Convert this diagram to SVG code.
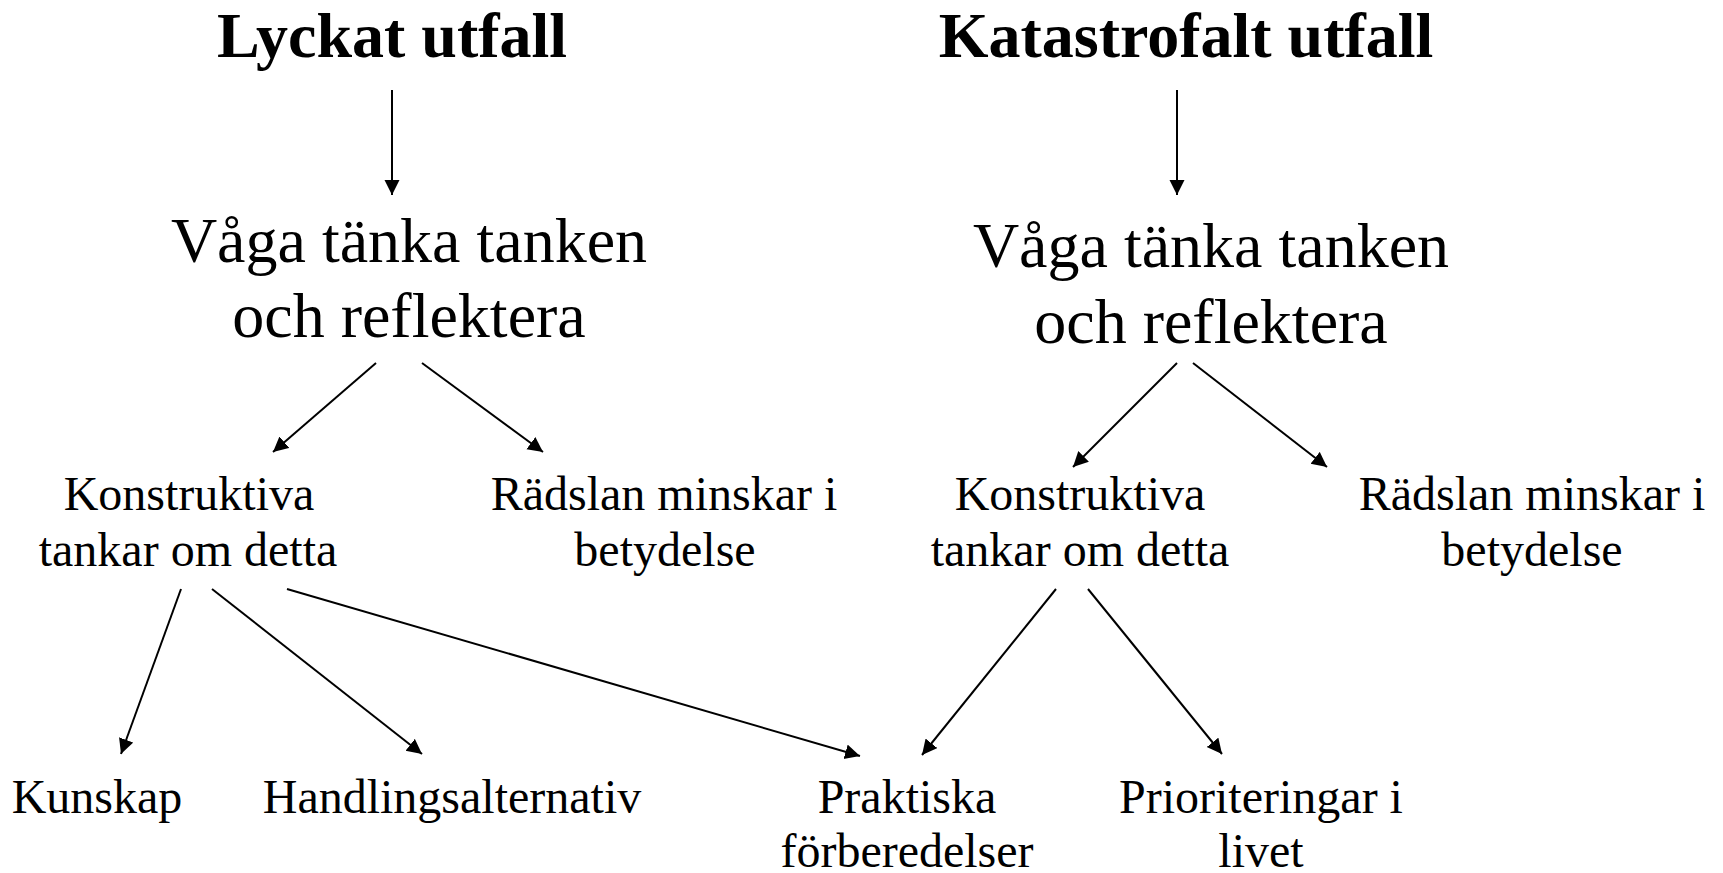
<svg xmlns="http://www.w3.org/2000/svg" width="1723" height="873" viewBox="0 0 1723 873">
<style>
text{font-family:"Liberation Serif","Times New Roman",serif;fill:#000;text-anchor:middle}
.title{font-size:64px;font-weight:bold}
.big{font-size:64px}
.mid{font-size:48px}
.conn line{stroke:#000;stroke-width:2;fill:none;marker-end:url(#arr)}
</style>
<defs>
<marker id="arr" markerUnits="userSpaceOnUse" markerWidth="16" markerHeight="16" refX="15" refY="7.5" orient="auto" viewBox="0 0 16 16">
<path d="M0,0 L15,7.5 L0,15 z" fill="#000"/>
</marker>
</defs>
<rect width="1723" height="873" fill="#fff"/>
<g class="conn" id="connectors">
<line x1="392" y1="90" x2="392" y2="195"/>
<line x1="1177" y1="90" x2="1177" y2="195"/>
<line x1="376" y1="363" x2="273" y2="452"/>
<line x1="422" y1="363" x2="543" y2="452"/>
<line x1="1177" y1="363" x2="1073" y2="467"/>
<line x1="1193" y1="363" x2="1327" y2="467"/>
<line x1="181" y1="589" x2="121" y2="754"/>
<line x1="212" y1="589" x2="422" y2="754"/>
<line x1="287" y1="589" x2="860" y2="756"/>
<line x1="1056" y1="589" x2="922" y2="755"/>
<line x1="1088" y1="589" x2="1222" y2="754"/>
</g>
<g id="lyckat"><text class="title" x="392" y="57">Lyckat utfall</text></g>
<g id="katastrofalt"><text class="title" x="1186" y="57">Katastrofalt utfall</text></g>
<g id="vaga-left"><text class="big" x="409" y="262">Våga tänka tanken</text><text class="big" x="409" y="337">och reflektera</text></g>
<g id="vaga-right"><text class="big" x="1211" y="267">Våga tänka tanken</text><text class="big" x="1211" y="343">och reflektera</text></g>
<g id="konstr-left"><text class="mid" x="189" y="510">Konstruktiva</text><text class="mid" x="188" y="566">tankar om detta</text></g>
<g id="radsla-left"><text class="mid" x="664" y="510">Rädslan minskar i</text><text class="mid" x="665" y="566">betydelse</text></g>
<g id="konstr-right"><text class="mid" x="1080" y="510">Konstruktiva</text><text class="mid" x="1080" y="566">tankar om detta</text></g>
<g id="radsla-right"><text class="mid" x="1532" y="510">Rädslan minskar i</text><text class="mid" x="1532" y="566">betydelse</text></g>
<g id="kunskap"><text class="mid" x="97" y="813">Kunskap</text></g>
<g id="handling"><text class="mid" x="452" y="813">Handlingsalternativ</text></g>
<g id="praktiska"><text class="mid" x="907" y="813">Praktiska</text><text class="mid" x="907" y="867">förberedelser</text></g>
<g id="prioriteringar"><text class="mid" x="1261" y="813">Prioriteringar i</text><text class="mid" x="1261" y="867">livet</text></g>
</svg>
